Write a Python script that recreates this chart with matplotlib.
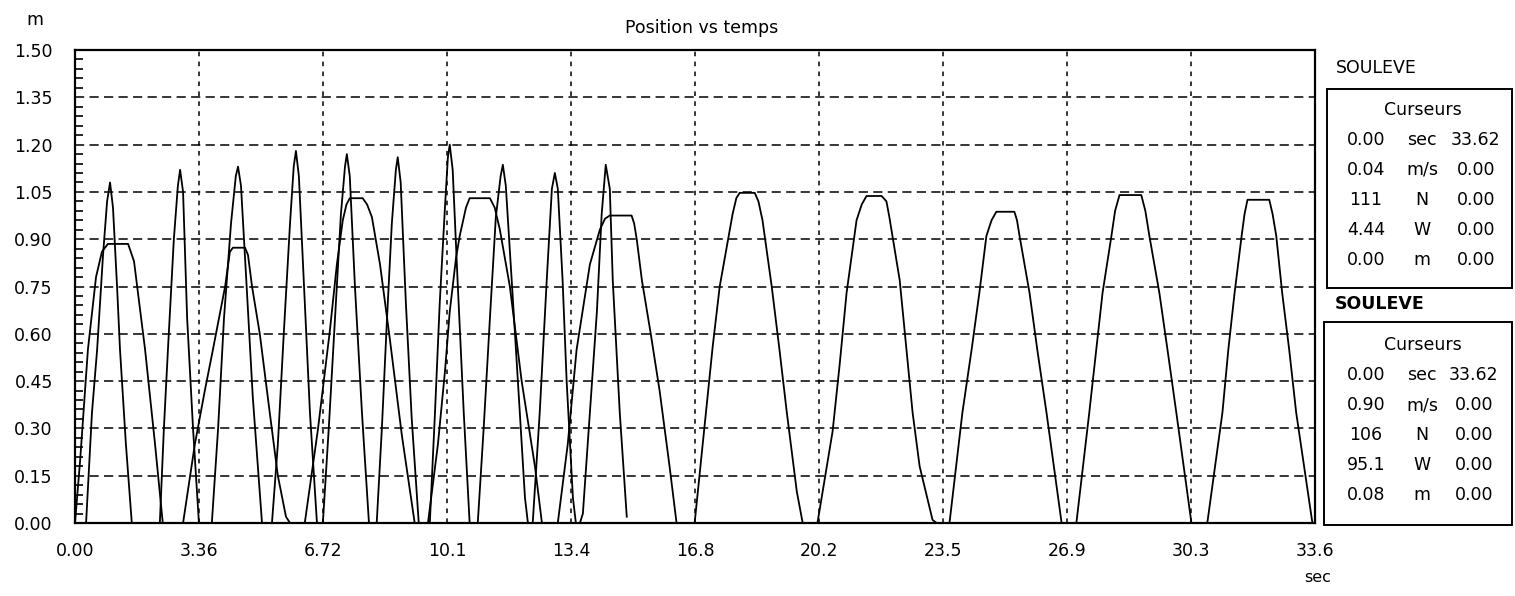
import matplotlib
matplotlib.use("Agg")
import matplotlib.pyplot as plt
from matplotlib.patches import Rectangle
from matplotlib.ticker import MultipleLocator

# ---------------- data ----------------
x_ticks = [0.0, 3.362, 6.724, 10.086, 13.448, 16.81, 20.172, 23.534, 26.896, 30.258, 33.62]
x_tick_labels = ["0.00", "3.36", "6.72", "10.1", "13.4", "16.8", "20.2", "23.5", "26.9", "30.3", "33.6"]
y_ticks = [0.0, 0.15, 0.30, 0.45, 0.60, 0.75, 0.90, 1.05, 1.20, 1.35, 1.50]
y_tick_labels = ["0.00", "0.15", "0.30", "0.45", "0.60", "0.75", "0.90", "1.05", "1.20", "1.35", "1.50"]

# fast lifts (narrow peaks)
fast_t = [0.00, 0.30, 0.46, 0.60, 0.76, 0.87, 0.95, 1.03, 1.14, 1.22, 1.38, 1.54,
          2.30, 2.41, 2.52, 2.68, 2.79, 2.85, 2.93, 3.04, 3.20, 3.36,
          3.71, 3.88, 4.04, 4.23, 4.36, 4.42, 4.50, 4.63, 4.82, 5.07,
          5.34, 5.50, 5.66, 5.83, 5.93, 5.99, 6.07, 6.21, 6.37, 6.56,
          6.72, 6.88, 7.05, 7.21, 7.32, 7.37, 7.45, 7.59, 7.78, 7.97,
          8.18, 8.32, 8.46, 8.59, 8.70, 8.75, 8.83, 8.97, 9.13, 9.32,
          9.62, 9.76, 9.89, 10.03, 10.11, 10.16, 10.24, 10.38, 10.54, 10.70,
          10.92, 11.08, 11.25, 11.41, 11.54, 11.60, 11.68, 11.84, 12.06, 12.20, 12.28,
          12.41, 12.60, 12.79, 12.93, 13.01, 13.09, 13.22, 13.33, 13.50, 13.58,
          13.69, 13.77, 13.96, 14.15, 14.28, 14.39, 14.50, 14.58, 14.77, 14.96]
fast_m = [0.00, 0.00, 0.35, 0.55, 0.85, 1.02, 1.08, 1.00, 0.75, 0.55, 0.25, 0.00,
          0.00, 0.30, 0.55, 0.90, 1.07, 1.12, 1.05, 0.65, 0.30, 0.00,
          0.00, 0.30, 0.65, 0.95, 1.10, 1.13, 1.07, 0.80, 0.40, 0.00,
          0.00, 0.25, 0.60, 0.95, 1.13, 1.18, 1.10, 0.75, 0.35, 0.00,
          0.00, 0.30, 0.65, 0.98, 1.13, 1.17, 1.10, 0.75, 0.35, 0.00,
          0.00, 0.30, 0.65, 0.95, 1.12, 1.16, 1.08, 0.70, 0.33, 0.00,
          0.00, 0.35, 0.70, 1.00, 1.16, 1.20, 1.12, 0.75, 0.35, 0.00,
          0.00, 0.30, 0.65, 0.97, 1.10, 1.136, 1.07, 0.77, 0.35, 0.08, 0.00,
          0.00, 0.35, 0.77, 1.06, 1.11, 1.06, 0.77, 0.45, 0.08, 0.00,
          0.00, 0.03, 0.35, 0.67, 0.98, 1.136, 1.06, 0.77, 0.35, 0.02]

# slow lifts (wide peaks)
slow_t = [0.00, 0.14, 0.35, 0.57, 0.73, 0.89, 1.44, 1.60, 1.76, 1.90, 2.17, 2.38,
          2.93, 3.25, 3.52, 3.74, 4.07, 4.20, 4.28, 4.61, 4.69, 4.80, 5.01, 5.28, 5.50, 5.72, 5.83,
          6.23, 6.59, 6.91, 7.10, 7.26, 7.36, 7.45, 7.80, 7.92, 8.05, 8.27, 8.54, 8.86, 9.21,
          9.57, 9.84, 10.03, 10.16, 10.33, 10.43, 10.60, 10.70, 11.25, 11.38, 11.52, 11.79, 12.11, 12.47, 12.66,
          13.09, 13.36, 13.60, 13.96, 14.23, 14.37, 14.50, 15.09, 15.16, 15.23, 15.37, 15.61, 15.85, 16.12, 16.31,
          16.80, 17.02, 17.29, 17.48, 17.67, 17.83, 17.93, 18.02, 18.43, 18.53, 18.64, 18.89, 19.10, 19.30, 19.57, 19.73,
          20.13, 20.54, 20.73, 20.92, 21.19, 21.33, 21.46, 21.87, 22.00, 22.08, 22.36, 22.71, 22.90, 23.25, 23.36,
          23.71, 24.06, 24.31, 24.52, 24.71, 24.85, 24.98, 25.47, 25.54, 25.61, 25.88, 26.09, 26.34, 26.75,
          27.15, 27.50, 27.69, 27.86, 28.10, 28.20, 28.32, 28.91, 29.02, 29.13, 29.40, 29.62, 29.86, 30.27,
          30.70, 31.11, 31.27, 31.44, 31.63, 31.71, 31.79, 32.38, 32.47, 32.57, 32.73, 32.92, 33.11, 33.55, 33.62]
slow_m = [0.00, 0.20, 0.55, 0.78, 0.86, 0.885, 0.885, 0.83, 0.68, 0.55, 0.25, 0.00,
          0.00, 0.25, 0.42, 0.55, 0.75, 0.86, 0.873, 0.873, 0.85, 0.75, 0.60, 0.35, 0.15, 0.02, 0.00,
          0.00, 0.30, 0.61, 0.82, 0.96, 1.01, 1.03, 1.03, 1.01, 0.97, 0.82, 0.58, 0.28, 0.00,
          0.00, 0.25, 0.48, 0.67, 0.84, 0.91, 1.00, 1.03, 1.03, 1.00, 0.93, 0.75, 0.45, 0.18, 0.00,
          0.00, 0.25, 0.55, 0.82, 0.93, 0.965, 0.975, 0.975, 0.95, 0.90, 0.77, 0.60, 0.42, 0.18, 0.00,
          0.00, 0.25, 0.56, 0.75, 0.875, 0.98, 1.03, 1.047, 1.047, 1.02, 0.96, 0.75, 0.55, 0.35, 0.10, 0.00,
          0.00, 0.29, 0.50, 0.73, 0.96, 1.01, 1.037, 1.037, 1.02, 0.97, 0.77, 0.35, 0.18, 0.01, 0.00,
          0.00, 0.35, 0.55, 0.73, 0.91, 0.96, 0.987, 0.987, 0.96, 0.91, 0.73, 0.55, 0.35, 0.00,
          0.00, 0.35, 0.55, 0.73, 0.91, 0.99, 1.04, 1.04, 0.99, 0.91, 0.73, 0.55, 0.35, 0.00,
          0.00, 0.35, 0.55, 0.73, 0.91, 0.98, 1.025, 1.025, 0.98, 0.91, 0.73, 0.55, 0.35, 0.00, 0.00]

panel_title_1 = "SOULEVE"
panel_title_2 = "SOULEVE"
panel_header = "Curseurs"
panel_rows_1 = [("0.00", "sec", "33.62"), ("0.04", "m/s", "0.00"), ("111", "N", "0.00"),
                ("4.44", "W", "0.00"), ("0.00", "m", "0.00")]
panel_rows_2 = [("0.00", "sec", "33.62"), ("0.90", "m/s", "0.00"), ("106", "N", "0.00"),
                ("95.1", "W", "0.00"), ("0.08", "m", "0.00")]

# ---------------- figure ----------------
W, H = 1515, 596
fig = plt.figure(figsize=(W / 100, H / 100), dpi=100)
plt.rcParams['font.family'] = ['DejaVu Sans']
FS = 12.5


def fx(px):
    return px / W


def fy(py):
    return 1 - py / H


ax = fig.add_axes([fx(75), fy(523), fx(1315) - fx(75), fy(50) - fy(523)])
ax.set_xlim(0, 33.62)
ax.set_ylim(0, 1.5)

# grid
for yv in y_ticks[1:-1]:
    ax.axhline(yv, color='black', lw=1.1, linestyle=(0, (6, 3.5)), zorder=1)
for xv in x_ticks[1:-1]:
    ax.axvline(xv, color='black', lw=1.1, linestyle=(0, (3, 3.5)), zorder=1)

ax.plot(slow_t, slow_m, color='black', lw=1.3, zorder=3)
ax.plot(fast_t, fast_m, color='black', lw=1.3, zorder=3)

for s in ax.spines.values():
    s.set_linewidth(1.6)
    s.set_color('black')

ax.set_xticks(x_ticks)
ax.set_xticklabels(x_tick_labels, fontsize=FS)
ax.set_yticks(y_ticks)
ax.set_yticklabels(y_tick_labels, fontsize=FS)
ax.yaxis.set_minor_locator(MultipleLocator(0.03))
ax.tick_params(axis='x', which='both', length=0, pad=14)
ax.tick_params(axis='y', which='major', length=0, pad=16)
ax.tick_params(axis='y', which='minor', direction='in', length=6, width=1.2)

fig.text(fx(35), fy(20), "m", fontsize=FS, ha='center', va='center')
fig.text(fx(702), fy(28), "Position vs temps", fontsize=FS, ha='center', va='center')
fig.text(fx(1318), fy(577), "sec", fontsize=FS - 1, ha='center', va='center')

# right panels
fig.text(fx(1336), fy(68), panel_title_1, fontsize=FS, ha='left', va='center')
fig.patches.append(Rectangle((fx(1327), fy(288)), fx(1512) - fx(1327), fy(89) - fy(288),
                             transform=fig.transFigure, fill=False, lw=1.4, ec='black'))
fig.text(fx(1423), fy(110), panel_header, fontsize=FS, ha='center', va='center')
for i, (a, u, b) in enumerate(panel_rows_1):
    yy = fy(140 + 30 * i)
    fig.text(fx(1366), yy, a, fontsize=FS, ha='center', va='center')
    fig.text(fx(1422), yy, u, fontsize=FS, ha='center', va='center')
    fig.text(fx(1476), yy, b, fontsize=FS, ha='center', va='center')

fig.text(fx(1335), fy(304), panel_title_2, fontsize=FS, ha='left', va='center', fontweight='bold')
fig.patches.append(Rectangle((fx(1324), fy(525)), fx(1512) - fx(1324), fy(322) - fy(525),
                             transform=fig.transFigure, fill=False, lw=1.4, ec='black'))
fig.text(fx(1423), fy(345), panel_header, fontsize=FS, ha='center', va='center')
for i, (a, u, b) in enumerate(panel_rows_2):
    yy = fy(375 + 30 * i)
    fig.text(fx(1366), yy, a, fontsize=FS, ha='center', va='center')
    fig.text(fx(1422), yy, u, fontsize=FS, ha='center', va='center')
    fig.text(fx(1474), yy, b, fontsize=FS, ha='center', va='center')

fig.savefig("out.png", dpi=100)
